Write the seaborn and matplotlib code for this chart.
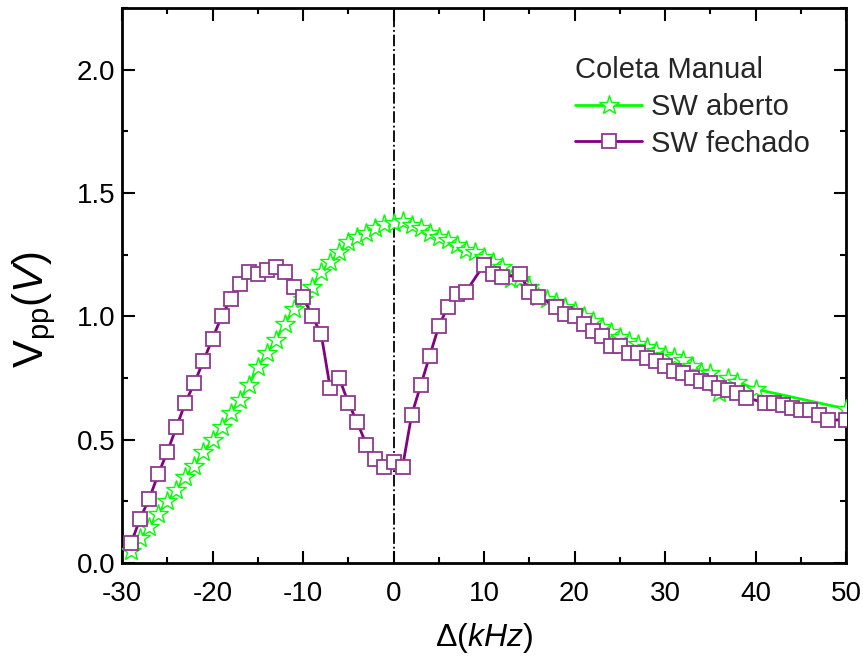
import numpy as np
import matplotlib
matplotlib.use("Agg")
import matplotlib.pyplot as plt
from matplotlib.ticker import MultipleLocator
import seaborn as sns

# SW aberto (estrelas verdes)
freq_aberto = [-29, -28, -27, -26, -25, -24, -23, -22, -21, -20, -19, -18, -17, -16,
               -15, -14, -13, -12, -11, -10, -9, -8, -7, -6, -5, -4, -3, -2, -1,
               0, 1, 2, 3, 4, 5, 6, 7, 8, 9, 10, 11, 12, 13, 14, 15, 16, 17, 18,
               19, 20, 21, 22, 23, 24, 25, 26, 27, 28, 29, 30, 31, 32, 33, 34, 35,
               36, 37, 38, 40, 50]
vpp_aberto = [0.05, 0.10, 0.145, 0.20, 0.25, 0.295, 0.35, 0.395, 0.45, 0.50, 0.55, 0.61,
              0.66, 0.72, 0.795, 0.85, 0.905, 0.97, 1.03, 1.07, 1.12, 1.18, 1.22, 1.26,
              1.30, 1.32, 1.34, 1.36, 1.375, 1.38, 1.385, 1.37, 1.36, 1.34, 1.32, 1.31,
              1.29, 1.27, 1.26, 1.24, 1.22, 1.20, 1.15, 1.15, 1.12, 1.08, 1.07, 1.06,
              1.04, 1.02, 1.00, 0.98, 0.955, 0.935, 0.915, 0.90, 0.89, 0.875, 0.86,
              0.845, 0.835, 0.825, 0.80, 0.775, 0.77, 0.69, 0.75, 0.735, 0.705, 0.625]

# SW fechado (quadrados roxos)
freq_fechado = [-29, -28, -27, -26, -25, -24, -23, -22, -21, -20, -19, -18, -17, -16,
                -15, -14, -13, -12, -11, -10, -9, -8, -7, -6, -5, -4, -3, -2, -1,
                0, 1, 2, 3, 4, 5, 6, 7, 8, 10, 11, 12, 14, 15, 16, 18, 19, 20, 21,
                22, 23, 24, 25, 26, 27, 28, 29, 30, 31, 32, 33, 34, 35, 36, 37, 38,
                39, 41, 42, 43, 44, 45, 46, 47, 48, 50]
vpp_fechado = [0.08, 0.18, 0.26, 0.36, 0.45, 0.55, 0.65, 0.73, 0.82, 0.91, 1.00, 1.07,
               1.13, 1.18, 1.17, 1.19, 1.20, 1.18, 1.12, 1.08, 1.00, 0.93, 0.71, 0.75,
               0.65, 0.57, 0.48, 0.42, 0.39, 0.41, 0.39, 0.60, 0.72, 0.84, 0.96, 1.04,
               1.09, 1.10, 1.21, 1.17, 1.16, 1.17, 1.10, 1.08, 1.04, 1.01, 1.00, 0.97,
               0.94, 0.92, 0.88, 0.88, 0.85, 0.85, 0.83, 0.82, 0.80, 0.78, 0.77, 0.75,
               0.74, 0.73, 0.71, 0.70, 0.69, 0.67, 0.65, 0.65, 0.64, 0.63, 0.62, 0.62,
               0.60, 0.58, 0.58]

x_ticks = [-30, -20, -10, 0, 10, 20, 30, 40, 50]
y_ticks = [0.0, 0.5, 1.0, 1.5, 2.0]

sns.set_theme(style="ticks")
plt.rcParams["font.family"] = ["Liberation Sans", "DejaVu Sans"]
plt.rcParams["mathtext.fontset"] = "custom"
plt.rcParams["mathtext.rm"] = "Liberation Sans"
plt.rcParams["mathtext.it"] = "Liberation Sans:italic"

fig = plt.figure(figsize=(8.63, 6.57), dpi=100)
ax = fig.add_axes([0.1414, 0.1431, 0.8389, 0.8445])

verde = "#00ff00"
roxo = "#800080"

sns.lineplot(x=freq_aberto, y=vpp_aberto, ax=ax, color=verde, lw=2,
             marker="*", markersize=15, markerfacecolor="white",
             markeredgecolor=verde, markeredgewidth=1.0,
             label="SW aberto", errorbar=None, zorder=3)
sns.lineplot(x=freq_fechado, y=vpp_fechado, ax=ax, color=roxo, lw=2,
             marker="s", markersize=9.5, markerfacecolor="white",
             markeredgecolor="#8e3a8e", markeredgewidth=1.3,
             label="SW fechado", errorbar=None, zorder=4)

ax.axvline(0, color="black", ls="-.", lw=1.3, zorder=2)

ax.set_xlim(-30, 50)
ax.set_ylim(0, 2.25)
ax.set_xticks(x_ticks)
ax.set_yticks(y_ticks)
ax.set_xticklabels([str(t) for t in x_ticks])
ax.set_yticklabels([f"{t:.1f}" for t in y_ticks])
ax.xaxis.set_minor_locator(MultipleLocator(5))
ax.yaxis.set_minor_locator(MultipleLocator(0.25))
ax.tick_params(which="both", direction="in", top=True, right=True,
               width=1.5, color="black", labelsize=20, labelcolor="black")
ax.tick_params(which="major", length=9)
ax.tick_params(which="minor", length=4.5)
ax.tick_params(axis="x", which="major", pad=13)
ax.tick_params(axis="y", which="major", pad=5)
for s in ax.spines.values():
    s.set_linewidth(2)
    s.set_color("black")

ax.set_xlabel(r"$\Delta(\mathit{kHz})$", fontsize=23, labelpad=10, color="black")
ax.set_ylabel(r"$\mathrm{V}_{\mathrm{pp}}(\mathit{V})$", fontsize=30, color="black")
ax.yaxis.set_label_coords(-0.088, 0.456)

leg = ax.legend(title="Coleta Manual", loc="upper right",
                bbox_to_anchor=(0.974, 0.945), frameon=False, fontsize=21,
                title_fontsize=21, handlelength=2.3, handletextpad=0.3,
                labelspacing=0.3, alignment="left", borderaxespad=0.2)

fig.savefig("out.png", dpi=100)
